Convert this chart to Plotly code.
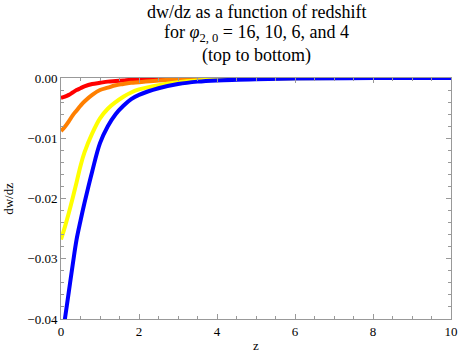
import plotly.graph_objects as go

# redshift grid shared by all curves
z = [0, 0.1, 0.2, 0.3, 0.4, 0.5, 0.6, 0.8, 1.0, 1.2, 1.4, 1.6, 1.8, 2.0,
     2.5, 3.0, 3.5, 4, 5, 6, 8, 10]

# dw/dz, phi_{2,0} = 16, 10, 6, 4
dwdz_16 = [-0.0033, -0.0031, -0.0028, -0.0024, -0.0020, -0.0017, -0.0014,
           -0.0010, -0.0008, -0.0006, -0.0005, -0.0004, -0.0003, -0.00025,
           -0.00015, -0.0001, -0.00006, -0.00004, -0.00002, -0.00001, 0, 0]
dwdz_10 = [-0.0088, -0.0081, -0.0072, -0.0062, -0.0054, -0.0046, -0.0039,
           -0.0028, -0.0020, -0.0016, -0.0012, -0.0010, -0.0008, -0.0007,
           -0.0004, -0.00025, -0.00015, -0.0001, -0.00004, -0.00002, 0, 0]
dwdz_6 = [-0.0268, -0.0247, -0.0224, -0.0199, -0.0173, -0.0146, -0.0124,
          -0.0092, -0.0067, -0.0051, -0.0040, -0.0031, -0.0024, -0.0019,
          -0.0012, -0.0007, -0.0004, -0.00025, -0.0001, -0.00004, -0.00001, 0]
dwdz_4 = [-0.0445, -0.0400, -0.0355, -0.0310, -0.0268, -0.0237, -0.0208,
          -0.0155, -0.0108, -0.0080, -0.0060, -0.0046, -0.0035, -0.0028,
          -0.0017, -0.0010, -0.0006, -0.0004, -0.0002, -0.00008, -0.00002, 0]

series = [
    ("16", dwdz_16, "#ff0000"),
    ("10", dwdz_10, "#ff7f00"),
    ("6", dwdz_6, "#ffff00"),
    ("4", dwdz_4, "#0000ff"),
]

title_lines = [
    "dw/dz as a function of redshift",
    "for <i>φ</i><sub>2, 0</sub> = 16, 10, 6, and 4",
    "(top to bottom)",
]

serif = "Liberation Serif, Times New Roman, serif"
frame_col = "#999999"

fig = go.Figure()
for name, vals, col in series:
    fig.add_trace(go.Scatter(x=z, y=vals, mode="lines", name=name,
                             line=dict(color=col, width=4, shape="spline"),
                             showlegend=False))

axis_common = dict(showline=True, linecolor=frame_col, linewidth=1,
                   mirror="ticks", ticks="inside", tickcolor=frame_col,
                   ticklen=5, showgrid=False, zeroline=False, automargin=False,
                   tickfont=dict(family=serif, size=13, color="black"))

fig.update_xaxes(range=[0, 10], dtick=2,
                 minor=dict(dtick=0.5, ticks="inside", ticklen=3, tickcolor=frame_col),
                 **axis_common)
fig.update_yaxes(range=[-0.04, 0], dtick=0.01, tickformat=".2f",
                 minor=dict(dtick=0.002, ticks="inside", ticklen=3, tickcolor=frame_col),
                 **axis_common)

# title lines and axis labels as annotations (paper coords)
for txt, yy in zip(title_lines, [1.275, 1.183, 1.093]):
    fig.add_annotation(text=txt, x=0.5, y=yy, xref="paper", yref="paper",
                       xanchor="center", yanchor="middle", showarrow=False,
                       font=dict(family=serif, size=18, color="black"))
fig.add_annotation(text="z", x=0.5, y=-0.108, xref="paper", yref="paper",
                   xanchor="center", yanchor="middle", showarrow=False,
                   font=dict(family=serif, size=13, color="black"))
fig.add_annotation(text="dw/dz", x=-0.135, y=0.5, xref="paper", yref="paper",
                   xanchor="center", yanchor="middle", showarrow=False, textangle=-90,
                   font=dict(family=serif, size=13, color="black"))

fig.update_layout(
    width=458, height=361,
    margin=dict(l=61, r=7, t=78, b=42),
    paper_bgcolor="white", plot_bgcolor="white",
)

# drop the page's default body margin so the figure fills the window
fig.write_html("out.html", config={"displayModeBar": False},
               post_script="document.body.style.margin='0';")
